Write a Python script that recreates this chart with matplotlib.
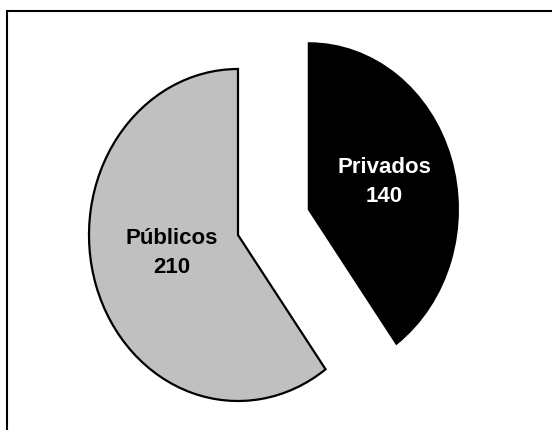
import matplotlib
matplotlib.use("Agg")
import matplotlib.pyplot as plt
from matplotlib.patches import Rectangle

categories = ["Privados", "Públicos"]
values = [140, 210]
colors = ["#000000", "#C0C0C0"]
text_colors = ["white", "black"]
explode = [0.5, 0.0]

W, H = 552, 430
fig = plt.figure(figsize=(W / 100, H / 100), dpi=100)
ax = fig.add_axes([0, 0, 1, 1])

wedges, _ = ax.pie(values, colors=colors, explode=explode, startangle=90,
                   counterclock=False,
                   wedgeprops=dict(edgecolor="black", linewidth=1.6))
ax.set_aspect("auto")
# center of unexploded pie at pixel (238, 235) from top-left; rx=149px, ry=166px
cx, cy, rx, ry = 238, 235, 149, 166
ax.set_xlim(-cx / rx, (W - cx) / rx)
ax.set_ylim(-(H - cy) / ry, cy / ry)

label_pos = {"Privados": ((384 - cx) / rx, (cy - 182) / ry),
             "Públicos": ((172 - cx) / rx, (cy - 253) / ry)}
for cat, val, tc in zip(categories, values, text_colors):
    x, y = label_pos[cat]
    ax.text(x, y, f"{cat}\n{val}", ha="center", va="center", color=tc,
            fontsize=16, fontweight="bold", family="Liberation Sans",
            linespacing=1.45)

# outer frame (clipped at right and bottom edges)
fig.patches.append(Rectangle((7 / W, -0.1), 2, (H - 11) / H + 0.1,
                             transform=fig.transFigure, fill=False,
                             edgecolor="black", linewidth=1.5))
fig.savefig("out.png", dpi=100)
